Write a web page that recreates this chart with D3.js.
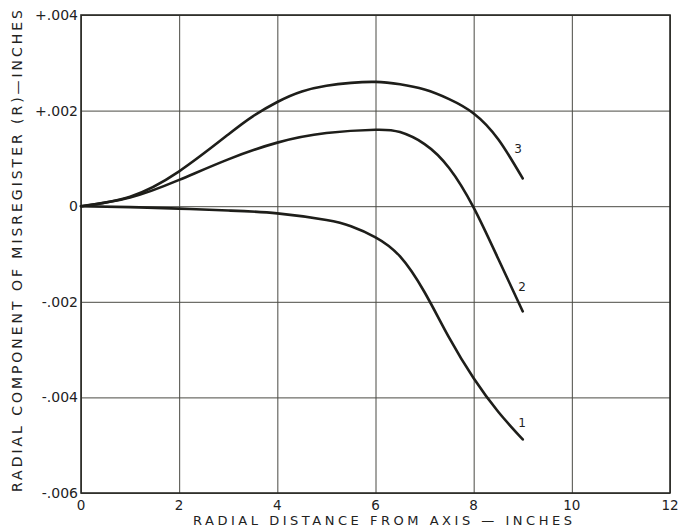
<!DOCTYPE html>
<html lang="en">
<head>
<meta charset="UTF-8">
<title>Radial component of misregister</title>
<script src="https://cdn.jsdelivr.net/npm/d3@7"></script>
<style>
  body { margin: 0; background: #fff; }
  text { font-family: "DejaVu Sans", sans-serif; fill: #22221e; }
</style>
</head>
<body>
<script>
// radial distance (inches) and misregister (inches)
var xs1 = [0, 1, 2, 3, 4, 5, 5.5, 6, 6.5, 7, 7.5, 8, 8.5, 9];
var curve1 = [0, -0.00002, -0.00005, -0.00009, -0.00015, -0.00029, -0.00042, -0.00065, -0.00105, -0.0018, -0.00275, -0.0036, -0.0043, -0.00488];

var xs2 = [0, 1, 2, 3, 4, 5, 6, 6.5, 7, 7.5, 8, 8.5, 9];
var curve2 = [0, 0.00018, 0.00055, 0.00098, 0.00133, 0.00153, 0.0016, 0.00155, 0.0013, 0.0008, -0.00003, -0.0011, -0.0022];

var xs3 = [0, 1, 2, 3, 3.5, 4, 4.5, 5, 5.5, 6, 6.5, 7, 7.5, 8, 8.5, 9];
var curve3 = [0, 0.0002, 0.00073, 0.0015, 0.00188, 0.00218, 0.0024, 0.00252, 0.00258, 0.0026, 0.00255, 0.00244, 0.00224, 0.00194, 0.0014, 0.00058];

var xTicks = [0, 2, 4, 6, 8, 10, 12];
var yTicks = [0.004, 0.002, 0, -0.002, -0.004, -0.006];
var yTickLabels = ["+.004", "+.002", "0", "-.002", "-.004", "-.006"];

var W = 679, H = 527;
// note: "top" is taken by window.top, so plot edges get their own names
var pL = 81, pR = 670, pT = 15, pB = 493;

var svg = d3.select("body").append("svg")
    .attr("width", W)
    .attr("height", H);

var x = d3.scaleLinear().domain([0, 12]).range([pL, pR]);
var y = d3.scaleLinear().domain([-0.006, 0.004]).range([pB, pT]);

// grid lines
svg.append("g")
    .attr("transform", "translate(0," + pB + ")")
    .call(d3.axisBottom(x).tickValues(xTicks).tickSize(-(pB - pT)).tickFormat(""))
    .call(function (g) {
        g.select(".domain").remove();
        g.selectAll("line").attr("stroke", "#4a4a44").attr("stroke-width", 1);
    });

svg.append("g")
    .attr("transform", "translate(" + pL + ",0)")
    .call(d3.axisLeft(y).tickValues(yTicks).tickSize(-(pR - pL)).tickFormat(""))
    .call(function (g) {
        g.select(".domain").remove();
        g.selectAll("line").attr("stroke", "#4a4a44").attr("stroke-width", 1);
    });

// frame
svg.append("rect")
    .attr("x", pL).attr("y", pT)
    .attr("width", pR - pL).attr("height", pB - pT)
    .attr("fill", "none")
    .attr("stroke", "#2a2a26")
    .attr("stroke-width", 1.6);

// tick labels
svg.selectAll(".xl").data(xTicks).enter().append("text")
    .attr("x", function (d) { return x(d); })
    .attr("y", 510)
    .attr("text-anchor", "middle")
    .attr("font-size", 13.5)
    .text(function (d) { return d; });

svg.selectAll(".yl").data(yTicks).enter().append("text")
    .attr("x", 78)
    .attr("y", function (d) { return y(d) + 5; })
    .attr("text-anchor", "end")
    .attr("font-size", 14)
    .text(function (d, i) { return yTickLabels[i]; });

// axis titles
svg.append("text")
    .attr("x", 193).attr("y", 525)
    .attr("font-size", 13)
    .attr("textLength", 379)
    .attr("lengthAdjust", "spacing")
    .text("RADIAL  DISTANCE  FROM  AXIS \u2014 INCHES");

svg.append("text")
    .attr("transform", "translate(22,492) rotate(-90)")
    .attr("font-size", 14)
    .attr("textLength", 482)
    .attr("lengthAdjust", "spacing")
    .text("RADIAL  COMPONENT  OF  MISREGISTER  (R)\u2014INCHES");

// curves
var series = [
    { xs: xs1, ys: curve1, label: "1", lx: 522, ly: 427 },
    { xs: xs2, ys: curve2, label: "2", lx: 522, ly: 291 },
    { xs: xs3, ys: curve3, label: "3", lx: 518, ly: 153 }
];

var line = d3.line()
    .x(function (d) { return x(d[0]); })
    .y(function (d) { return y(d[1]); })
    .curve(d3.curveNatural);

series.forEach(function (s) {
    svg.append("path")
        .datum(s.xs.map(function (v, i) { return [v, s.ys[i]]; }))
        .attr("d", line)
        .attr("fill", "none")
        .attr("stroke", "#1e1e1a")
        .attr("stroke-width", 2.6)
        .attr("stroke-linecap", "round");
    svg.append("text")
        .attr("x", s.lx).attr("y", s.ly)
        .attr("text-anchor", "middle")
        .attr("font-size", 12)
        .text(s.label);
});
</script>
</body>
</html>
